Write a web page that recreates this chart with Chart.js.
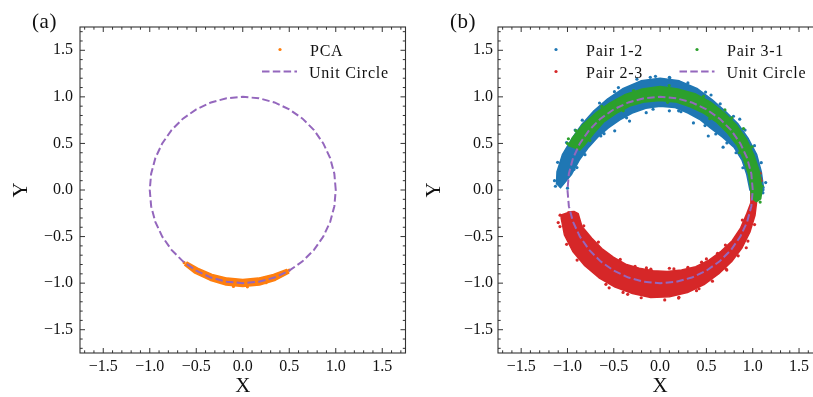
<!DOCTYPE html>
<html>
<head>
<meta charset="utf-8">
<script src="https://cdn.jsdelivr.net/npm/chart.js@4.4.1/dist/chart.umd.min.js"></script>
<style>
  html, body { margin: 0; padding: 0; background: #fff; overflow: hidden; }
  #wrap { position: relative; width: 813px; height: 397px; overflow: hidden; }
  canvas { position: absolute; top: 0; }
  #panelA { left: 0; }
  #panelB { left: 410px; }
</style>
</head>
<body>
<div id="wrap">
  <canvas id="panelA" width="410" height="397"></canvas>
  <canvas id="panelB" width="420" height="397"></canvas>
</div>
<script>
// axis range and tick labels (same on both panels, both axes)
const axisMin = -1.75, axisMax = 1.75;
const tickValues = [-1.5, -1.0, -0.5, 0.0, 0.5, 1.0, 1.5];

// unit circle, one point every 10 degrees
const circleX = [1, 0.985, 0.940, 0.866, 0.766, 0.643, 0.5, 0.342, 0.174, 0, -0.174, -0.342, -0.5, -0.643, -0.766, -0.866, -0.940, -0.985,
                 -1, -0.985, -0.940, -0.866, -0.766, -0.643, -0.5, -0.342, -0.174, 0, 0.174, 0.342, 0.5, 0.643, 0.766, 0.866, 0.940, 0.985, 1];
const circleY = [0, 0.174, 0.342, 0.5, 0.643, 0.766, 0.866, 0.940, 0.985, 1, 0.985, 0.940, 0.866, 0.766, 0.643, 0.5, 0.342, 0.174,
                 0, -0.174, -0.342, -0.5, -0.643, -0.766, -0.866, -0.940, -0.985, -1, -0.985, -0.940, -0.866, -0.766, -0.643, -0.5, -0.342, -0.174, 0];

// (a) PCA point cloud: outline of the dense band, then loose points at its edge
const pcaBand = [[-0.628,-0.804],[-0.515,-0.892],[-0.352,-0.968],[-0.180,-1.019],[0,-1.035],[0.180,-1.019],[0.352,-0.968],[0.495,-0.893],
                 [0.473,-0.853],[0.330,-0.907],[0.167,-0.946],[0,-0.96],[-0.167,-0.946],[-0.330,-0.907],[-0.485,-0.840],[-0.604,-0.772]];
const pcaLoose = [[-0.63,-0.78],[-0.55,-0.83],[0.5,-0.86],[0.05,-1.04],[-0.1,-1.035],[0.25,-0.995]];

// (b) Pair 1-2 (blue)
const pair12Band = [[-1.119,0.058],[-1.113,0.197],[-1.053,0.383],[-0.953,0.55],[-0.843,0.707],[-0.714,0.850],[-0.565,0.979],[-0.397,1.090],
                    [-0.207,1.172],[0,1.20],[0.207,1.172],[0.397,1.090],[0.56,0.970],[0.707,0.843],[0.843,0.707],[0.953,0.55],[1.043,0.380],
                    [1.093,0.193],[1.12,0],[1.089,-0.038],[0.999,-0.035],[0.97,0],[0.936,0.165],[0.884,0.321],[0.797,0.46],[0.674,0.566],
                    [0.553,0.659],[0.435,0.753],[0.301,0.827],[0.157,0.887],[0,0.90],[-0.155,0.877],[-0.301,0.827],[-0.435,0.753],
                    [-0.559,0.666],[-0.674,0.566],[-0.779,0.45],[-0.874,0.318],[-0.955,0.169],[-1.049,0.055],[-1.08,0.02]];
const pair12Loose = [[-1.14,0.1],[-1.13,0.04],[-1.0,0.02],[-0.93,0.22],[-1.01,0.51],[-0.84,0.75],[-0.64,0.58],[-0.49,0.635],
                     [-0.33,0.74],[-0.15,0.83],[0.1,0.85],[0.2,0.85],[0.36,0.72],[0.52,0.58],[0.68,0.46],[0.82,0.4],[-0.45,1.1],
                     [-0.25,1.19],[-0.05,1.22],[0.1,1.21],[0.3,1.15],[0.55,1.02],[0.86,0.76],[1.11,0.03],[1.11,-0.03],[1.14,0.08],
                     [-1.106,0.297],[-0.917,0.643],[-0.654,0.934],[-0.493,1.056],[-0.106,1.21],[0.105,1.205],[0.491,1.051],
                     [0.649,0.925],[0.792,0.792],[0.917,0.643],[1.019,0.476],[1.092,0.293],
                     [-0.898,0.241],[-0.811,0.379],[-0.605,0.605],[-0.362,0.775],[-0.076,0.867],[0.225,0.840],[0.485,0.692],
                     [0.601,0.601],[0.721,0.505],[0.894,0.239]];

// (b) Pair 2-3 (red)
const pair23Band = [[-1.07,-0.26],[-1.067,-0.306],[-1.033,-0.482],[-0.942,-0.660],[-0.813,-0.813],[-0.660,-0.942],[-0.486,-1.042],[-0.298,-1.111],
                    [-0.101,-1.155],[0.100,-1.145],[0.295,-1.101],[0.474,-1.015],[0.631,-0.901],[0.771,-0.771],[0.885,-0.620],[0.969,-0.453],
                    [1.024,-0.275],[1.040,-0.146],[1.05,0.0],[0.98,0.0],[0.980,-0.138],[0.937,-0.251],[0.870,-0.406],[0.778,-0.545],
                    [0.658,-0.658],[0.528,-0.753],[0.385,-0.824],[0.231,-0.860],[0.077,-0.876],[-0.076,-0.867],[-0.225,-0.840],
                    [-0.372,-0.797],[-0.505,-0.721],[-0.629,-0.629],[-0.737,-0.517],[-0.843,-0.393],[-0.884,-0.254],[-0.93,-0.23],[-1.0,-0.235]];
const pair23Loose = [[-1.08,-0.27],[-1.1,-0.35],[-0.93,-0.32],[-0.78,-0.5],[-0.62,-0.66],[-0.44,-0.76],[-0.27,-0.82],[-0.1,-0.85],
                     [0.1,-0.84],[0.3,-0.83],[0.5,-0.74],[0.62,-0.68],[-0.55,-1.05],[-0.35,-1.12],[0.05,-1.18],[0.2,-1.16],
                     [0.42,-1.06],[0.72,-0.86],[0.93,-0.62],[1.08,0.13],[1.08,0.18],[1.09,0.1],
                     [-1.081,-0.393],[-1.009,-0.583],[-0.896,-0.752],[-0.585,-1.013],[-0.400,-1.100],[-0.204,-1.157],[0.203,-1.152],
                     [0.393,-1.081],[0.565,-0.979],[0.714,-0.850],[0.843,-0.707],[0.948,-0.548],[1.020,-0.371],
                     [-0.824,-0.385],[-0.666,-0.559],[-0.43,-0.745],[-0.148,-0.837],[0.149,-0.847],[0.448,-0.775],[0.705,-0.591],[0.888,-0.323]];

// (b) Pair 3-1 (green)
const pair31Band = [[-0.99,0.47],[-0.953,0.55],[-0.835,0.701],[-0.694,0.827],[-0.54,0.935],[-0.373,1.025],[-0.191,1.084],[0,1.11],
                    [0.191,1.084],[0.376,1.034],[0.545,0.944],[0.694,0.827],[0.827,0.694],[0.935,0.54],[1.015,0.369],[1.074,0.190],
                    [1.10,0],[1.086,-0.095],[1.04,-0.125],[0.986,-0.086],[0.98,0],[0.955,0.169],[0.902,0.328],[0.831,0.48],[0.728,0.611],
                    [0.611,0.728],[0.475,0.823],[0.325,0.893],[0.167,0.946],[0,0.96],[-0.167,0.946],[-0.328,0.902],[-0.475,0.823],
                    [-0.611,0.728],[-0.720,0.604],[-0.823,0.475],[-0.872,0.425]];
const pair31Loose = [[-1.0,0.5],[-0.99,0.55],[0.9,0.66],[1.1,0.04],[1.08,-0.13],[0.7,0.86],
                     [-0.909,0.637],[-0.629,0.897],[-0.286,1.067],[0.098,1.121],[0.469,1.006],[0.774,0.774],[0.992,0.463],
                     [-0.758,0.531],[-0.398,0.852],[0.082,0.941],[0.536,0.766],[0.856,0.400]];

const SERIF = '"Liberation Serif", "DejaVu Serif", serif';
const INK = '#111';
const C_BLUE = '#1f77b4', C_ORANGE = '#ff7f0e', C_GREEN = '#2ca02c', C_RED = '#d62728', C_PURPLE = '#9467bd';
const DASH = [7.5, 3.3];

const pts = arr => arr.map(([x, y]) => ({ x, y }));

// one cloud = filled band outline + loose dots, same colour, same layer
function cloud(label, band, loose, color, order) {
  return [
    { type: 'line', label, data: pts(band), borderColor: color, backgroundColor: color, borderWidth: 1.5,
      borderJoinStyle: 'round', pointRadius: 0, fill: 'shape', order },
    { type: 'scatter', label: label + ' loose', data: pts(loose), backgroundColor: color, borderWidth: 0,
      pointRadius: 1.6, order }
  ];
}

function unitCircle() {
  return { type: 'line', label: 'Unit Circle', data: circleX.map((x, i) => ({ x, y: circleY[i] })),
           borderColor: C_PURPLE, borderWidth: 2, borderDash: DASH, pointRadius: 0, fill: false, order: 0 };
}

const fmt = v => (v < 0 ? '\u2212' : '') + Math.abs(v).toFixed(1);

// frame on all four sides with inward major / minor ticks
const frameTicks = {
  id: 'frameTicks',
  afterDatasetsDraw(chart) {
    const { ctx, chartArea: a, scales: { x, y } } = chart;
    ctx.save();
    ctx.strokeStyle = '#333';
    ctx.lineWidth = 1.1;
    ctx.strokeRect(a.left, a.top, a.right - a.left, a.bottom - a.top);
    ctx.lineWidth = 1;
    ctx.beginPath();
    for (let k = -17; k <= 17; k++) {
      const len = k % 5 === 0 ? 5 : 2.7;
      const px = x.getPixelForValue(k / 10), py = y.getPixelForValue(k / 10);
      ctx.moveTo(px, a.bottom); ctx.lineTo(px, a.bottom - len);
      ctx.moveTo(px, a.top); ctx.lineTo(px, a.top + len);
      ctx.moveTo(a.left, py); ctx.lineTo(a.left + len, py);
      ctx.moveTo(a.right, py); ctx.lineTo(a.right - len, py);
    }
    ctx.stroke();
    ctx.restore();
  }
};

// legend inside the plot + panel tag "(a)" / "(b)"
const panelDecor = {
  id: 'panelDecor',
  afterDraw(chart, args, opts) {
    const { ctx, chartArea: a } = chart;
    ctx.save();
    ctx.fillStyle = INK;
    ctx.textBaseline = 'alphabetic';
    ctx.textAlign = 'center';
    ctx.font = '21px ' + SERIF;
    ctx.letterSpacing = '0.5px';
    ctx.fillText(opts.tag, opts.tagX, 27.8);
    ctx.textAlign = 'left';
    ctx.font = '16px ' + SERIF;
    ctx.letterSpacing = '0.75px';
    opts.items.forEach(it => {
      const ds = chart.data.datasets[it.ds];
      const cx = a.left + it.dx, cy = a.top + it.dy;
      if (ds.borderDash) {
        ctx.save();
        ctx.strokeStyle = ds.borderColor;
        ctx.lineWidth = ds.borderWidth;
        ctx.setLineDash(ds.borderDash);
        ctx.beginPath();
        ctx.moveTo(cx - 17, cy); ctx.lineTo(cx + 18, cy);
        ctx.stroke();
        ctx.restore();
      } else {
        ctx.beginPath();
        ctx.arc(cx, cy, 1.6, 0, Math.PI * 2);
        ctx.fillStyle = ds.backgroundColor;
        ctx.fill();
      }
      ctx.fillStyle = INK;
      ctx.fillText(ds.label, cx + 30, cy + 6);
    });
    ctx.restore();
  }
};

function panelConfig(datasets, p) {
  const tickFont = { family: SERIF, size: 16 };
  const titleFont = { family: SERIF, size: 21, lineHeight: 1 };
  return {
    type: 'scatter',
    data: { datasets },
    options: {
      responsive: false,
      animation: false,
      events: [],
      layout: { padding: { left: 0, top: 27, right: p.padRight, bottom: 0 } },
      plugins: {
        legend: { display: false },
        tooltip: { enabled: false },
        panelDecor: { tag: p.tag, tagX: p.tagX, items: p.items }
      },
      scales: {
        x: {
          type: 'linear', position: 'bottom', min: axisMin, max: axisMax,
          afterBuildTicks: s => { s.ticks = tickValues.map(v => ({ value: v })); },
          afterFit: s => { s.height = 44; },
          grid: { display: false, drawTicks: false },
          border: { display: false },
          ticks: { font: tickFont, color: INK, padding: 4, maxRotation: 0, autoSkip: false, callback: fmt },
          title: { display: true, text: 'X', color: INK, font: titleFont, padding: { top: 0, bottom: 0 } }
        },
        y: {
          type: 'linear', position: 'left', min: axisMin, max: axisMax,
          afterBuildTicks: s => { s.ticks = tickValues.map(v => ({ value: v })); },
          afterFit: s => { s.width = p.yWidth; },
          grid: { display: false, drawTicks: false },
          border: { display: false },
          ticks: { font: tickFont, color: INK, padding: p.yTickPad, autoSkip: false, callback: fmt },
          title: { display: true, text: 'Y', color: INK, font: titleFont, padding: { top: p.yTitlePad, bottom: 0 } }
        }
      }
    },
    plugins: [frameTicks, panelDecor]
  };
}

// panel (a)
const orange = cloud('PCA', pcaBand, pcaLoose, C_ORANGE, 1);
const dsA = [orange[0], orange[1], unitCircle()];
new Chart(document.getElementById('panelA'), panelConfig(dsA, {
  tag: '(a)', tagX: 44.5, padRight: 4.5, yWidth: 80, yTickPad: 7, yTitlePad: 11,
  items: [ { ds: 0, dx: 200, dy: 22.5 }, { ds: 2, dx: 199, dy: 44.5 } ]
}));

// panel (b): blue underneath, then red, then green, circle on top
const blue = cloud('Pair 1-2', pair12Band, pair12Loose, C_BLUE, 3);
const red = cloud('Pair 2-3', pair23Band, pair23Loose, C_RED, 2);
const green = cloud('Pair 3-1', pair31Band, pair31Loose, C_GREEN, 1);
const dsB = [blue[0], blue[1], red[0], red[1], green[0], green[1], unitCircle()];
new Chart(document.getElementById('panelB'), panelConfig(dsB, {
  tag: '(b)', tagX: 53, padRight: 7.8, yWidth: 88, yTickPad: 5, yTitlePad: 14,
  items: [ { ds: 0, dx: 58, dy: 22.5 }, { ds: 2, dx: 58, dy: 44.5 },
           { ds: 4, dx: 199, dy: 22.5 }, { ds: 6, dx: 198.5, dy: 44.5 } ]
}));
</script>
</body>
</html>
